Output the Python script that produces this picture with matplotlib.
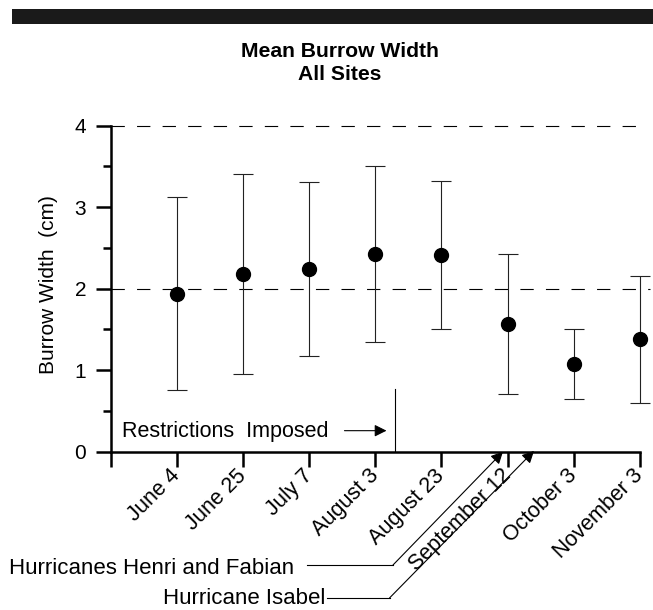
import matplotlib.pyplot as plt
from matplotlib.patches import Rectangle
from matplotlib.lines import Line2D

plt.rcParams['font.family'] = ['Liberation Sans', 'DejaVu Sans']

# data
dates = ['June 4', 'June 25', 'July 7', 'August 3', 'August 23',
         'September 12', 'October 3', 'November 3']
mean_width = [1.94, 2.18, 2.24, 2.43, 2.41, 1.57, 1.08, 1.38]
sd_width = [1.18, 1.23, 1.07, 1.08, 0.91, 0.86, 0.43, 0.78]
yticks = [0, 1, 2, 3, 4]

x = list(range(1, len(dates) + 1))

fig = plt.figure(figsize=(6.53, 6.10), dpi=100)
ax = fig.add_axes([0.170, 0.2595, 0.830, 0.5345])

# black band across the top
fig.add_artist(Rectangle((0.018, 0.9607), 0.982, 0.0246, transform=fig.transFigure,
                         facecolor='#1a1a1a', edgecolor='none'))
fig.text(340 / 653, 1 - 63 / 610, 'Mean Burrow Width\nAll Sites', ha='center', va='center',
         fontsize=15.2, fontweight='bold', linespacing=1.25)

# reference lines
ax.hlines(4, 0, 7.97, colors='black', lw=0.8, linestyles=(0, (12, 11)), clip_on=False)
ax.hlines(2, 0, 8.15, colors='black', lw=0.8, linestyles=(0, (12, 11)), clip_on=False)

ax.errorbar(x, mean_width, yerr=sd_width, fmt='o', color='black', ms=10,
            ecolor='#222222', elinewidth=0.8, capsize=7, capthick=0.8, clip_on=False, zorder=3)

ax.set_xlim(0, 8.2)
ax.set_ylim(0, 4)
for s in ['top', 'right']:
    ax.spines[s].set_visible(False)
ax.spines['left'].set_linewidth(1.8)
ax.spines['bottom'].set_linewidth(1.8)
ax.spines['bottom'].set_bounds(0, 8)

ax.set_yticks(yticks)
ax.set_yticks([0.5, 1.5, 2.5, 3.5], minor=True)
ax.tick_params(axis='y', which='major', length=11, width=1.8, labelsize=15, pad=7)
ax.tick_params(axis='y', which='minor', length=6, width=1.8)
ax.set_xticks([0] + x)
ax.set_xticklabels([''] + dates)
ax.tick_params(axis='x', length=11, width=1.8, labelsize=15.5, pad=4)
for lbl in ax.get_xticklabels():
    lbl.set_rotation(45)
    lbl.set_ha('right')
    lbl.set_va('center')
    lbl.set_rotation_mode('anchor')

fig.text(48 / 653, 1 - 285 / 610, 'Burrow Width  (cm)', rotation=90, ha='center',
         va='center', fontsize=15)

# restrictions marker
ax.text(0.16, 0.185, 'Restrictions  Imposed', fontsize=15.5, va='baseline', ha='left')
ax.annotate('', xy=(4.21, 0.258), xytext=(3.49, 0.258),
            arrowprops=dict(arrowstyle='-|>', color='black', lw=0.8, mutation_scale=18))
ax.plot([4.30, 4.30], [0, 0.77], color='black', lw=0.8)

# hurricane callouts
fig.text(294, 610 - 568, 'Hurricanes Henri and Fabian', transform=None, ha='right',
         va='center', fontsize=16)
fig.add_artist(Line2D([307, 393], [610 - 565, 610 - 565], transform=None, color='black', lw=0.8))
ax.annotate('', xy=(5.93, 0), xytext=(393, 610 - 565), textcoords='figure pixels',
            arrowprops=dict(arrowstyle='-|>', color='black', lw=0.8, mutation_scale=18,
                            shrinkA=0, shrinkB=0), annotation_clip=False)

fig.text(325, 610 - 598, 'Hurricane Isabel', transform=None, ha='right',
         va='center', fontsize=16)
fig.add_artist(Line2D([327, 389.5], [610 - 598, 610 - 598], transform=None, color='black', lw=0.8))
ax.annotate('', xy=(6.40, 0.01), xytext=(389.5, 610 - 598), textcoords='figure pixels',
            arrowprops=dict(arrowstyle='-|>', color='black', lw=0.8, mutation_scale=18,
                            shrinkA=0, shrinkB=0), annotation_clip=False)

fig.savefig('out.png', dpi=100)
